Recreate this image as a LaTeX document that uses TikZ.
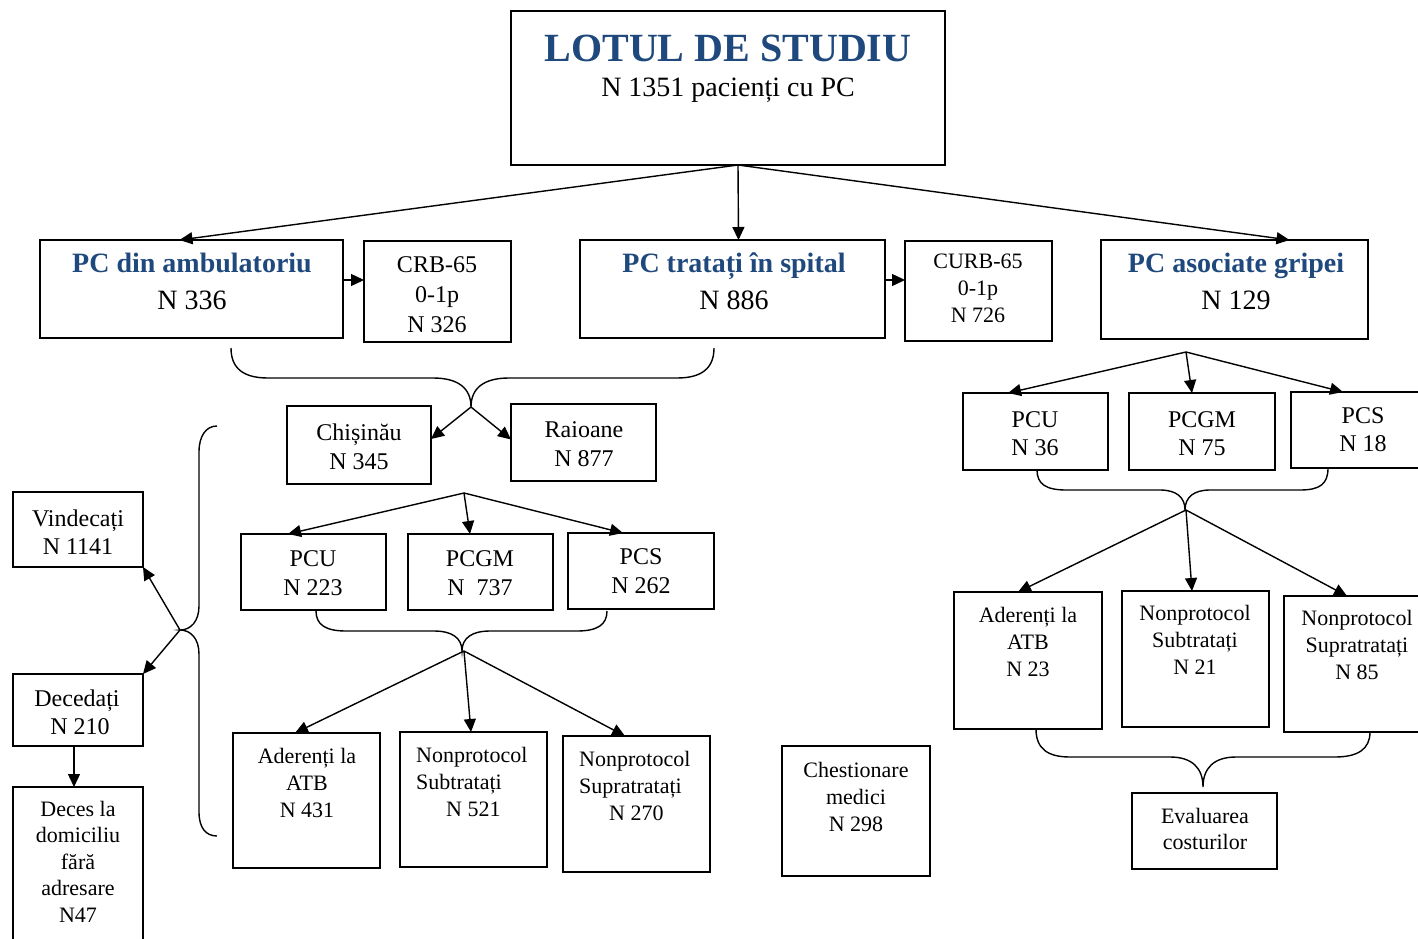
\documentclass[tikz,border=0pt]{standalone}
\usepackage{fontspec}
\setmainfont{Liberation Serif}
\usetikzlibrary{arrows.meta,fit}
\definecolor{hd}{RGB}{31,73,125}
\newcommand\fA{\fontsize{22}{27}\selectfont}
\newcommand\fB{\fontsize{24}{29}\selectfont}
\newcommand\fC{\fontsize{28}{37}\selectfont}
\newcommand\ctab[1]{\begin{tabular}[t]{@{}c@{}}#1\end{tabular}}
\newcommand\ltab[1]{\begin{tabular}[t]{@{}l@{}}#1\end{tabular}}
\newcommand\bx[5]{\node[boxn, fit={(#2,#3) (#4,#5)}] (#1) {};}
\begin{document}
\begin{tikzpicture}[x=1pt,y=-1pt,
  boxn/.style={draw=black, line width=1.4pt, inner sep=0pt, outer sep=0pt},
  txt/.style={inner sep=0pt, anchor=base},
  txtl/.style={inner sep=0pt, anchor=base west},
  arr/.style={draw=black, line width=1.4pt, -{Triangle[length=13pt,width=12pt]}},
  brace/.style={draw=black, line width=1.4pt}]
\useasboundingbox (0,0) rectangle (1418,939);
\clip (0,0) rectangle (1418,939);
\fill[white] (0,0) rectangle (1418,939);

% ---- boxes ----
\bx{lot}{511}{11}{945}{165}
\bx{amb}{40}{240}{343}{338}
\bx{crb}{364}{241}{511}{342}
\bx{spit}{580}{240}{885}{338}
\bx{curb}{905}{241}{1052}{341}
\bx{grip}{1101}{240}{1368}{339}
\bx{chis}{287}{406}{431}{484}
\bx{raio}{511}{404}{656}{481}
\bx{pcua}{241}{534}{386}{610}
\bx{pcgma}{408}{534}{553}{610}
\bx{pcsa}{568}{533}{714}{609}
\bx{ada}{233}{733}{380}{868}
\bx{suba}{400}{732}{547}{867}
\bx{supa}{563}{736}{710}{872}
\bx{chest}{782}{746}{930}{876}
\bx{vind}{13}{492}{143}{567}
\bx{dec}{13}{674}{143}{746}
\bx{deces}{13}{787}{143}{960}
\bx{pcub}{963}{393}{1108}{470}
\bx{pcgmb}{1129}{393}{1275}{470}
\bx{pcsb}{1291}{392}{1436}{468}
\bx{adb}{954}{592}{1102}{729}
\bx{subb}{1122}{591}{1269}{727}
\bx{supb}{1284}{596}{1430}{732}
\bx{eval}{1132}{793}{1277}{869}

% ---- texts ----
\node[txt, font=\fontsize{40}{48}\selectfont\bfseries, text=hd] (lot-t) at (728,62) {LOTUL DE STUDIU};
\node[txt, font=\fontsize{28}{34}\selectfont] (lot-s) at (728,97) {N 1351 pacienți cu PC};
\node[txt] (amb-t) at (192,272) {\fC\ctab{{\bfseries\color{hd}PC din ambulatoriu}\\N 336}};
\node[txt] (spit-t) at (734,272) {\fC\ctab{{\bfseries\color{hd}PC tratați în spital}\\N 886}};
\node[txt] (grip-t) at (1236,272) {\fC\ctab{{\bfseries\color{hd}PC asociate gripei}\\N 129}};
\node[txt] (crb-t) at (437,272) {\fontsize{24}{30}\selectfont\ctab{CRB-65\\0-1p\\N 326}};
\node[txt] (curb-t) at (978,268) {\fA\ctab{CURB-65\\0-1p\\N 726}};
\node[txt] (chis-t) at (359,440) {\fB\ctab{Chișinău\\N 345}};
\node[txt] (raio-t) at (584,437) {\fB\ctab{Raioane\\N 877}};
\node[txt] (pcua-t) at (313,566) {\fB\ctab{PCU\\N 223}};
\node[txt] (pcgma-t) at (480,566) {\fB\ctab{PCGM\\N\ \ 737}};
\node[txt] (pcsa-t) at (641,564) {\fB\ctab{PCS\\N 262}};
\node[txt] (ada-t) at (307,763) {\fA\ctab{Aderenți la\\ATB\\N 431}};
\node[txtl] (suba-t) at (416,762) {\fA\ltab{Nonprotocol\\Subtratați\\\hspace*{30pt}N 521}};
\node[txtl] (supa-t) at (579,766) {\fA\ltab{Nonprotocol\\Supratratați\\\hspace*{30pt}N 270}};
\node[txt] (chest-t) at (856,777) {\fA\ctab{Chestionare\\medici\\N 298}};
\node[txt] (vind-t) at (78,526) {\fontsize{24}{28}\selectfont\ctab{Vindecați\\N 1141}};
\node[txt] (dec-t) at (77,706) {\fontsize{24}{28}\selectfont\ctab{Decedați\\\ N 210}};
\node[txt] (deces-t) at (78,816) {\fontsize{22}{26.5}\selectfont\ctab{Deces la\\domiciliu\\fără\\adresare\\N47}};
\node[txt] (pcub-t) at (1035,427) {\fontsize{24}{28}\selectfont\ctab{PCU\\N 36}};
\node[txt] (pcgmb-t) at (1202,427) {\fontsize{24}{28}\selectfont\ctab{PCGM\\N 75}};
\node[txt] (pcsb-t) at (1363,423) {\fontsize{24}{28}\selectfont\ctab{PCS\\N 18}};
\node[txt] (adb-t) at (1028,622) {\fA\ctab{Aderenți la\\ATB\\N 23}};
\node[txt] (subb-t) at (1195,620) {\fA\ctab{Nonprotocol\\Subtratați\\N 21}};
\node[txt] (supb-t) at (1357,625) {\fA\ctab{Nonprotocol\\Supratratați\\N 85}};
\node[txt] (eval-t) at (1205,823) {\fontsize{22}{26}\selectfont\ctab{Evaluarea\\costurilor}};

% ---- braces ----
\draw[brace] (231,348) .. controls (231,368) and (243,378) .. (268,378) -- (433,378)
  .. controls (458,378) and (471,388) .. (471,407)
  .. controls (471,388) and (484,378) .. (509,378) -- (677,378)
  .. controls (702,378) and (714,368) .. (714,348);
\draw[brace] (316,611) .. controls (316,625) and (326,631) .. (346,631) -- (434,631)
  .. controls (452,631) and (462,638) .. (462,651)
  .. controls (462,638) and (472,631) .. (490,631) -- (577,631)
  .. controls (597,631) and (607,625) .. (607,611);
\draw[brace] (1037,470) .. controls (1037,484) and (1046,490) .. (1066,490) -- (1160,490)
  .. controls (1176,490) and (1185,497) .. (1185,510)
  .. controls (1185,497) and (1194,490) .. (1210,490) -- (1300,490)
  .. controls (1320,490) and (1328,484) .. (1328,468);
\draw[brace] (1036,729) .. controls (1036,749) and (1048,757) .. (1070,757) -- (1170,757)
  .. controls (1192,757) and (1203,768) .. (1203,787)
  .. controls (1203,768) and (1214,757) .. (1236,757) -- (1335,757)
  .. controls (1358,757) and (1370,749) .. (1370,732);
\draw[brace] (217,426) .. controls (206,426) and (199,436) .. (199,452) -- (199,606)
  .. controls (199,621) and (191,630) .. (180,630)
  .. controls (191,630) and (199,639) .. (199,654) -- (199,812)
  .. controls (199,828) and (206,836) .. (217,836);

% ---- connector points ----
\coordinate (f1) at ([xshift=10pt]lot.south);
\coordinate (a1) at ([yshift=9pt]amb.east);
\coordinate (a2) at ([yshift=9pt]spit.east);
\coordinate (c1) at (471,407);
\coordinate (f2) at (464,493);
\coordinate (c2) at (464,651);
\coordinate (f3) at (1186,352);
\coordinate (c3) at (1186,510);
\coordinate (c5) at (180,630);

% ---- connectors ----
\draw[arr] (f1) -- ([xshift=-12pt]amb.north);
\draw[arr] (f1) -- ([xshift=6pt]spit.north);
\draw[arr] (f1) -- ([xshift=55pt]grip.north);
\draw[arr] (a1) -- (a1 -| crb.west);
\draw[arr] (a2) -- (a2 -| curb.west);
\draw[arr] (c1) -- ([yshift=6pt]chis.east);
\draw[arr] (c1) -- ([yshift=3pt]raio.west);
\draw[arr] (f2) -- ([xshift=-25.5pt]pcua.north);
\draw[arr] (f2) -- ([xshift=-10.5pt]pcgma.north);
\draw[arr] (f2) -- ([xshift=-18pt]pcsa.north);
\draw[arr] (c2) -- ([xshift=-11.5pt]ada.north);
\draw[arr] (c2) -- ([xshift=-2.5pt]suba.north);
\draw[arr] (c2) -- ([xshift=-11.5pt]supa.north);
\draw[arr] (f3) -- ([xshift=-27.5pt]pcub.north);
\draw[arr] (f3) -- ([xshift=-10pt]pcgmb.north);
\draw[arr] (f3) -- ([xshift=-20.5pt]pcsb.north);
\draw[arr] (c3) -- ([xshift=-10pt]adb.north);
\draw[arr] (c3) -- ([xshift=-3.5pt]subb.north);
\draw[arr] (c3) -- ([xshift=-10pt]supb.north);
\draw[arr] (c5) -- (vind.south east);
\draw[arr] (c5) -- (dec.north east);
\draw[arr] ([xshift=-4pt]dec.south) -- ([xshift=-4pt]deces.north);
\end{tikzpicture}
\end{document}
